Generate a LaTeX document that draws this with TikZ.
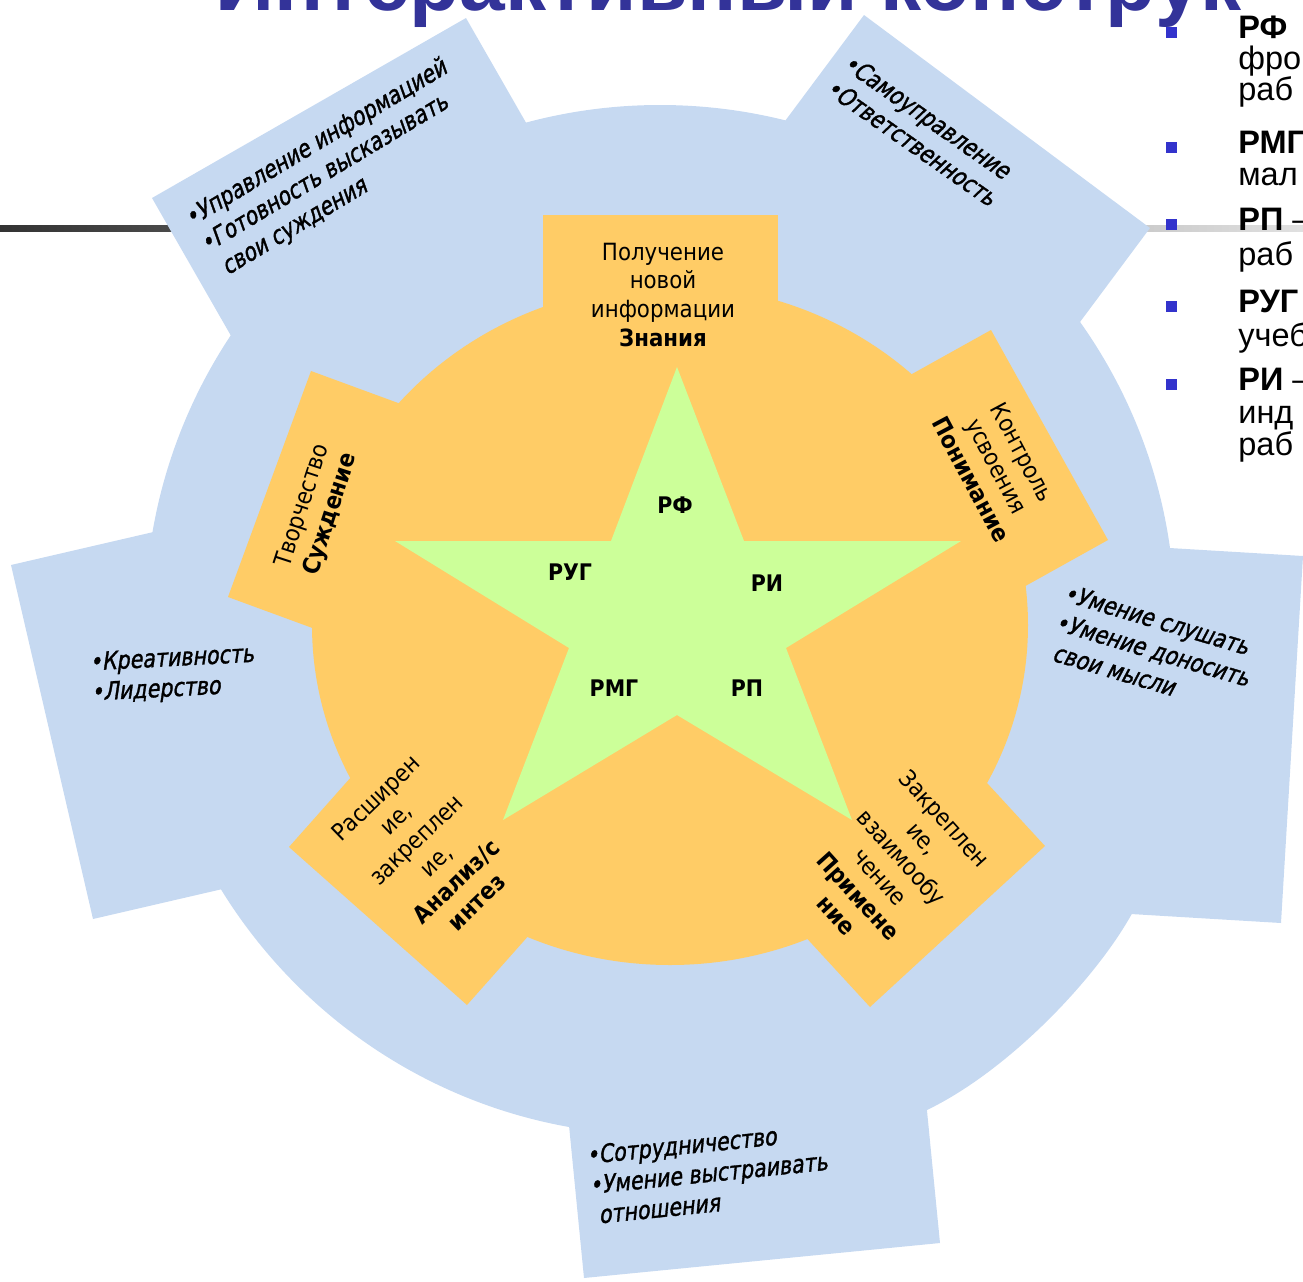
\documentclass[tikz,border=0pt]{standalone}
\usepackage{fontspec}
\usetikzlibrary{calc}
\setmainfont{DejaVu Sans}
\IfFontExistsTF{DejaVu Sans Condensed}
  {\newfontfamily\blockfont{DejaVu Sans Condensed}
   \newfontfamily\slantfont[FakeSlant=0.2,FakeBold=1.3,FakeStretch=0.92]{DejaVu Sans Condensed}}
  {\newfontfamily\blockfont[FakeStretch=0.9]{DejaVu Sans}
   \newfontfamily\slantfont[FakeSlant=0.2,FakeBold=1.3,FakeStretch=0.83]{DejaVu Sans}}
\newfontfamily\arialfont{Liberation Sans}
\definecolor{ringblue}{HTML}{C6D9F1}
\definecolor{ringorange}{HTML}{FFCC66}
\definecolor{stargreen}{HTML}{CCFF99}
\definecolor{titleblue}{HTML}{333399}
\definecolor{bulletblue}{HTML}{3333CC}
\tikzset{
  skilltext/.style={font=\slantfont\fontsize{14.2}{17.2}\selectfont, align=left, inner sep=0pt, anchor=west},
  stagetext/.style={font=\blockfont\fontsize{13.5}{16.5}\selectfont, align=center, inner sep=0pt},
  formlabel/.style={font=\blockfont\bfseries\fontsize{13}{15}\selectfont, inner sep=0pt},
  listline/.style={font=\arialfont\fontsize{18.5}{19}\selectfont, anchor=base west, inner sep=0pt},
}
\begin{document}
\begin{tikzpicture}[x=0.02cm,y=-0.02cm]
  \useasboundingbox (0,0) rectangle (1303,1282);
  \clip (0,0) rectangle (1303,1282);
  % rule under the title
  \shade[left color=black!80, right color=black!12] (0,225) rectangle (1303,231);
  % outer ring with the five skill blocks
  \fill[ringblue] (660,620) circle (515);
  \fill[ringblue] (1135,908) .. controls (1100,975) and (1010,1070) .. (927,1110) -- (850,950) -- (1050,850) -- cycle;
  \fill[ringblue] (152,198) -- (466,18) -- ($(466,18)!5cm!90:(152,198)$) -- ($(152,198)!5cm!-90:(466,18)$) -- cycle;
  \fill[ringblue] (864,15) -- (1150,228) -- ($(1150,228)!5cm!90:(864,15)$) -- ($(864,15)!5cm!-90:(1150,228)$) -- cycle;
  \fill[ringblue] (1303,556) -- (1281,923) -- ($(1281,923)!5cm!90:(1303,556)$) -- ($(1303,556)!5cm!-90:(1281,923)$) -- cycle;
  \fill[ringblue] (940,1243) -- (584,1278) -- ($(584,1278)!5cm!90:(940,1243)$) -- ($(940,1243)!5cm!-90:(584,1278)$) -- cycle;
  \fill[ringblue] (93,919) -- (11,565) -- ($(11,565)!5cm!90:(93,919)$) -- ($(93,919)!5cm!-90:(11,565)$) -- cycle;
  % inner ring with the five stage blocks
  \fill[ringorange] (670,625) ellipse [x radius=358, y radius=340];
  \fill[ringorange] (543,215) -- (778,215) -- ($(778,215)!3cm!90:(543,215)$) -- ($(543,215)!3cm!-90:(778,215)$) -- cycle;
  \fill[ringorange] (991,330) -- (1108,540) -- ($(1108,540)!3cm!90:(991,330)$) -- ($(991,330)!3cm!-90:(1108,540)$) -- cycle;
  \fill[ringorange] (1045,846) -- (870,1007) -- ($(870,1007)!3cm!90:(1045,846)$) -- ($(1045,846)!3cm!-90:(870,1007)$) -- cycle;
  \fill[ringorange] (467,1005) -- (289,847) -- ($(289,847)!3cm!90:(467,1005)$) -- ($(467,1005)!3cm!-90:(289,847)$) -- cycle;
  \fill[ringorange] (228,597) -- (311,371) -- ($(311,371)!3cm!90:(228,597)$) -- ($(228,597)!3cm!-90:(311,371)$) -- cycle;
  % star of work forms
  \fill[stargreen] (677,367) -- (744,541) -- (961,541) -- (786,648) -- (852,820) -- (677,715)
    -- (503,820) -- (569,648) -- (395,541) -- (611,541) -- cycle;
  \node[formlabel] (rf) at (675,505) {РФ};
  \node[formlabel] (rug) at (570,572) {РУГ};
  \node[formlabel] (ri) at (767,583) {РИ};
  \node[formlabel] (rmg) at (614,688) {РМГ};
  \node[formlabel] (rp) at (747,688) {РП};
  % stages
  \node[stagetext] (knowledge) at (663,295) {Получение\\новой\\информации\\\textbf{Знания}};
  \node[stagetext, rotate=-62] (understanding) at (997,466) {Контроль\\усвоения\\\textbf{Понимание}};
  \node[stagetext, rotate=-48] (application) at (891,867) {Закреплен\\ие,\\взаимообу\\чение\\\textbf{Примене}\\\textbf{ние}};
  \node[stagetext, rotate=44] (analysis) at (426,850) {Расширен\\ие,\\закреплен\\ие,\\\textbf{Анализ/с}\\\textbf{интез}};
  \node[stagetext, rotate=72] (judgement) at (317,510) {Творчество\\\textbf{Суждение}};
  % skills
  \node[skilltext, rotate=31] (infoskill) at (203,247) {•Управление информацией\\•Готовность высказывать\\\hspace*{0.25em}свои суждения};
  \node[skilltext, rotate=-35] (selfskill) at (838,72) {•Самоуправление\\•Ответственность};
  \node[skilltext, rotate=-16.5] (listenskill) at (1056,621) {•Умение слушать\\•Умение доносить\\\hspace*{0.25em}свои мысли};
  \node[skilltext, rotate=5.8] (teamskill) at (589,1185) {•Сотрудничество\\•Умение выстраивать\\\hspace*{0.25em}отношения};
  \node[skilltext, rotate=3] (leadskill) at (90,679) {•Креативность\\•Лидерство};
  % title, cut by the page edge
  \node[font=\arialfont\bfseries\fontsize{46.7}{50}\selectfont, text=titleblue, anchor=base west, inner sep=0pt]
    (title) at (215,10) {Интерактивный конструк};
  % legend of work forms
  \fill[bulletblue] (1166,27) rectangle (1177,38);
  \fill[bulletblue] (1166,142) rectangle (1177,153);
  \fill[bulletblue] (1166,219) rectangle (1177,230);
  \fill[bulletblue] (1166,301) rectangle (1177,312);
  \fill[bulletblue] (1166,379) rectangle (1177,390);
  \node[listline] (l1) at (1238,38) {\textbf{РФ}};
  \node[listline] (l2) at (1238,69) {фро};
  \node[listline] (l3) at (1238,100) {раб};
  \node[listline] (l4) at (1238,153) {\textbf{РМГ}};
  \node[listline] (l5) at (1238,185) {мал};
  \node[listline] (l6) at (1238,230) {\textbf{РП} –};
  \node[listline] (l7) at (1238,265) {раб};
  \node[listline] (l8) at (1238,312) {\textbf{РУГ}};
  \node[listline] (l9) at (1238,346) {учеб};
  \node[listline] (l10) at (1238,390) {\textbf{РИ} –};
  \node[listline] (l11) at (1238,423) {инд};
  \node[listline] (l12) at (1238,455) {раб};
\end{tikzpicture}
\end{document}
